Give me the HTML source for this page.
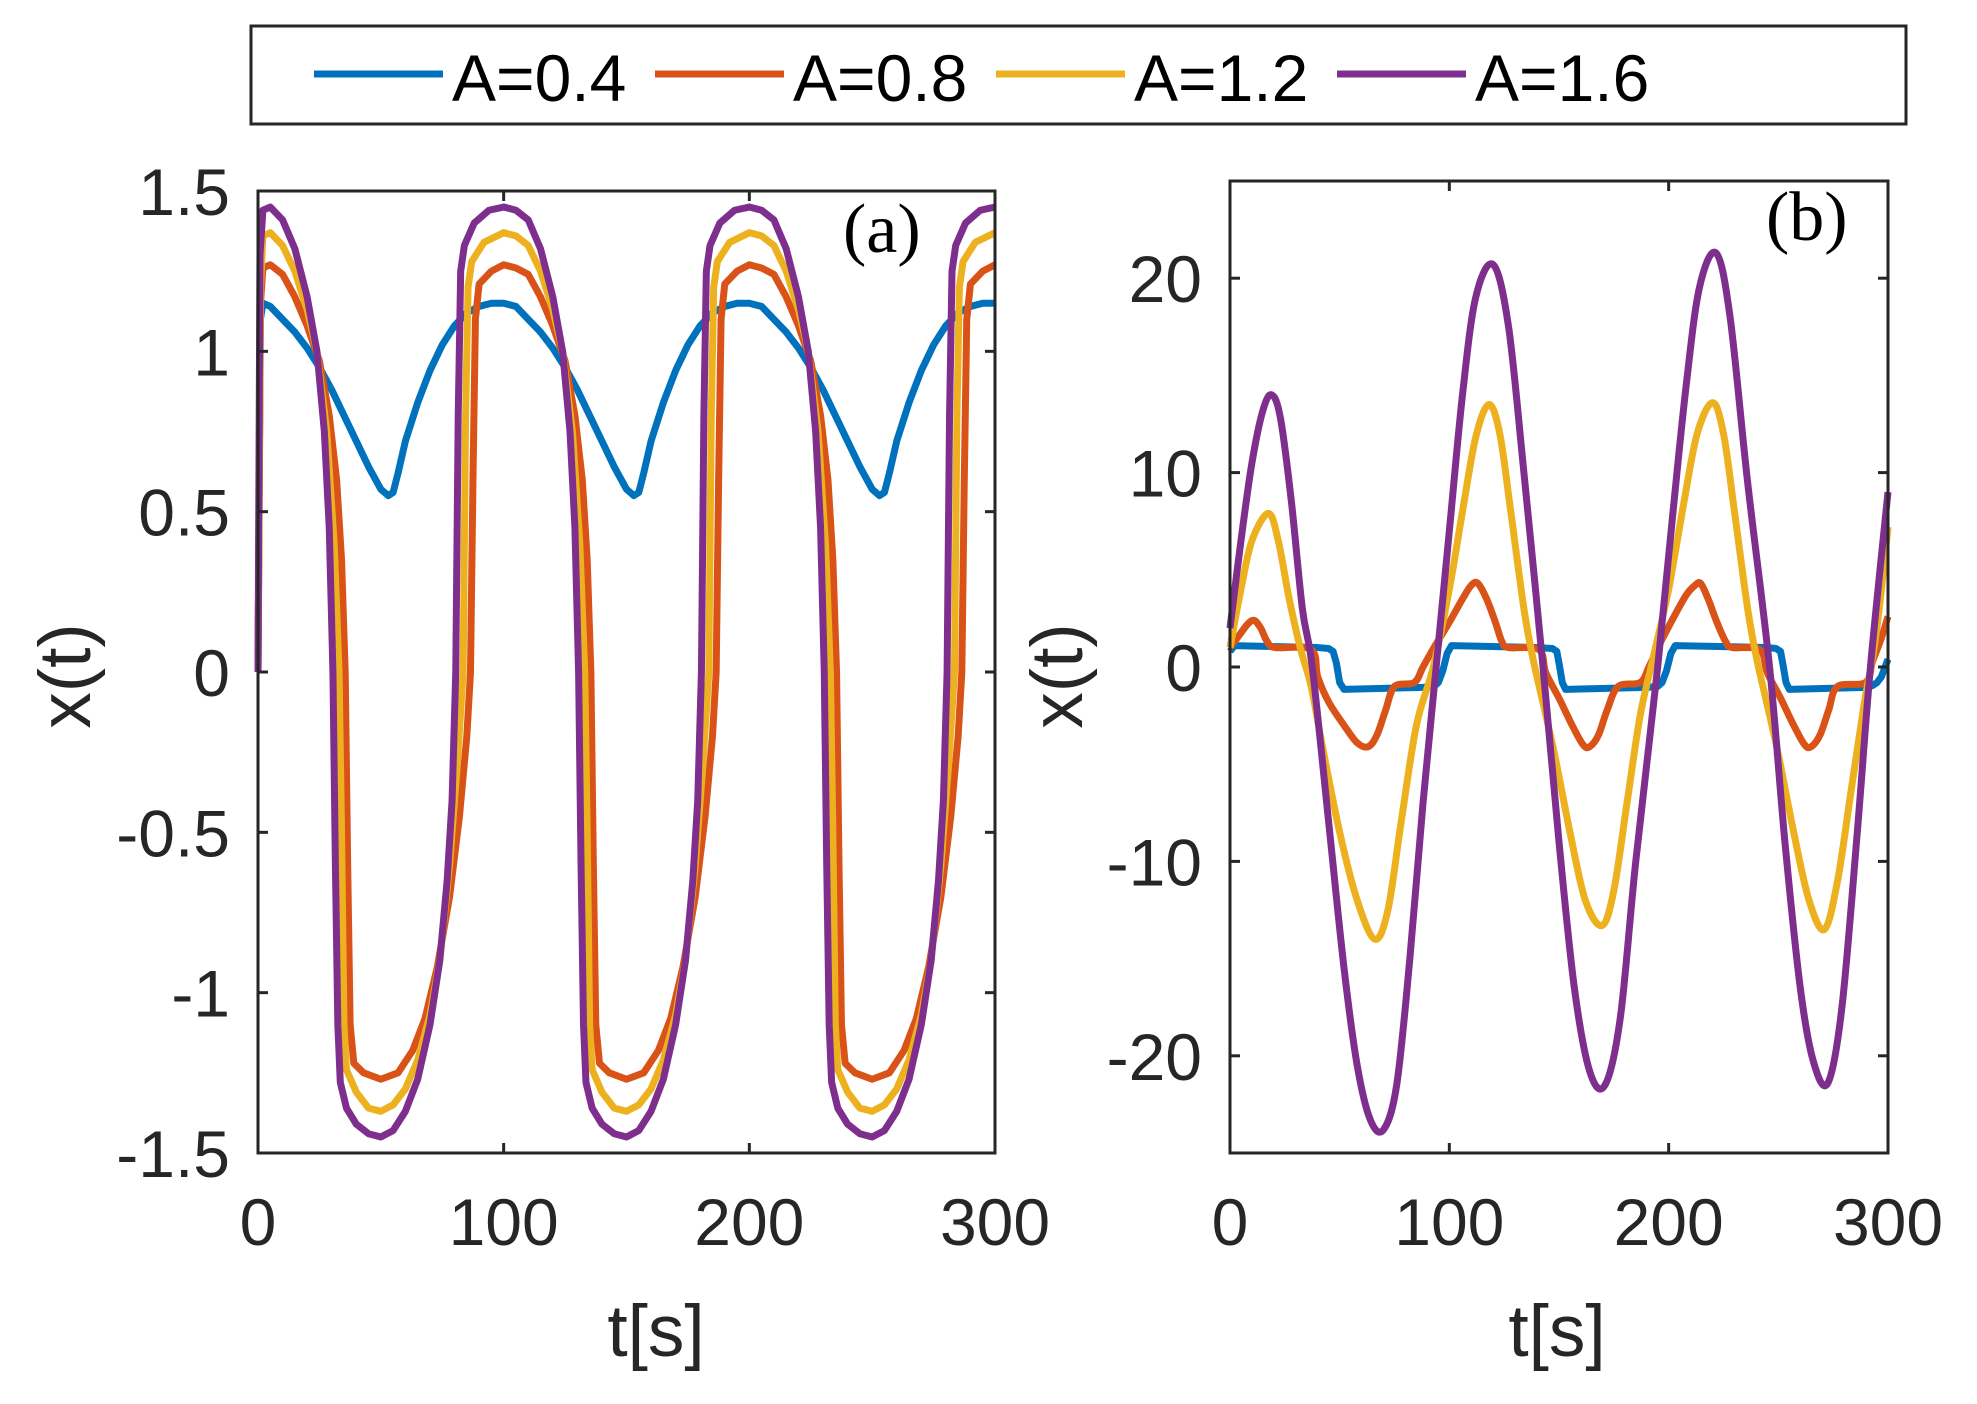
<!DOCTYPE html>
<html><head><meta charset="utf-8"><title>x(t) for different A</title>
<style>
html,body{margin:0;padding:0;background:#fff;}
svg{display:block;font-family:"Liberation Sans",Arial,sans-serif;}
.tick{font-size:66px;fill:#262626;}
.alab{font-size:73px;fill:#262626;}
.leg{font-size:66px;fill:#000;}
.pl{font-family:"Liberation Serif",serif;font-size:70px;fill:#000;}
</style></head>
<body>
<svg id="chart" width="1977" height="1404" viewBox="0 0 1977 1404">
  <g>
    <rect x="251" y="26" width="1655" height="98" fill="#fff" stroke="#262626" stroke-width="3"/>
    <g><line x1="314" y1="74" x2="443" y2="74" stroke="#0072BD" stroke-width="7"/><text class="leg" x="452" y="101">A=0.4</text></g>
    <g><line x1="655" y1="74" x2="784" y2="74" stroke="#D95319" stroke-width="7"/><text class="leg" x="793" y="101">A=0.8</text></g>
    <g><line x1="996" y1="74" x2="1125" y2="74" stroke="#EDB120" stroke-width="7"/><text class="leg" x="1134" y="101">A=1.2</text></g>
    <g><line x1="1337" y1="74" x2="1466" y2="74" stroke="#7E2F8E" stroke-width="7"/><text class="leg" x="1475" y="101">A=1.6</text></g>
  </g>
  <g id="panelA"></g>
  <g id="panelB"></g>
</svg>
<script>
// ---------- Panel (a) data ----------
const xTicksA = [0, 100, 200, 300];
const yTicksA = [-1.5, -1, -0.5, 0, 0.5, 1, 1.5];
const yTickLabelsA = ["-1.5", "-1", "-0.5", "0", "0.5", "1", "1.5"];
const tA_blue = [0,1,2,5,10,15,20,25,30,35,40,45,50,53,55,57,60,65,70,75,80,85,90,95,100,105,110,115,120,125,130,135,140,145,150,153,155,157,160,165,170,175,180,185,190,195,200,205,210,215,220,225,230,235,240,245,250,253,255,257,260,265,270,275,280,285,290,295,300];
const xA_blue = [0,1.1,1.15,1.14,1.1,1.06,1.01,0.95,0.88,0.8,0.72,0.64,0.57,0.55,0.56,0.62,0.72,0.84,0.94,1.02,1.08,1.12,1.14,1.15,1.15,1.14,1.1,1.06,1.01,0.95,0.88,0.8,0.72,0.64,0.57,0.55,0.56,0.62,0.72,0.84,0.94,1.02,1.08,1.12,1.14,1.15,1.15,1.14,1.1,1.06,1.01,0.95,0.88,0.8,0.72,0.64,0.57,0.55,0.56,0.62,0.72,0.84,0.94,1.02,1.08,1.12,1.14,1.15,1.15];
const tA_orange = [0,1,2,5,10,15,20,25,29,32,34,35.5,36.5,37.5,39,43,50,57,63,68,73,78,82,85,86.5,87.5,88.5,90,95,100,
  105,110,115,120,125,129,132,134,135.5,136.5,137.5,139,143,150,157,163,168,173,178,182,185,186.5,187.5,188.5,190,195,200,
  205,210,215,220,225,229,232,234,235.5,236.5,237.5,239,243,250,257,263,268,273,278,282,285,286.5,287.5,288.5,290,295,300];
const xA_orange = [0,1.15,1.26,1.27,1.24,1.17,1.08,0.97,0.8,0.6,0.35,0,-0.6,-1.1,-1.22,-1.25,-1.27,-1.25,-1.18,-1.08,-0.92,-0.7,-0.45,-0.2,0,0.6,1.1,1.21,1.25,1.27,
  1.26,1.24,1.17,1.08,0.97,0.8,0.6,0.35,0,-0.6,-1.1,-1.22,-1.25,-1.27,-1.25,-1.18,-1.08,-0.92,-0.7,-0.45,-0.2,0,0.6,1.1,1.21,1.25,1.27,
  1.26,1.24,1.17,1.08,0.97,0.8,0.6,0.35,0,-0.6,-1.1,-1.22,-1.25,-1.27,-1.25,-1.18,-1.08,-0.92,-0.7,-0.45,-0.2,0,0.6,1.1,1.21,1.25,1.27];
const tA_yellow = [0,1,2,5,10,15,20,24,28,31,33,34,35,36,40,45,50,55,60,65,70,74,78,81,83.5,84.5,85.5,87,92,100,105,110,115,120,124,128,131,133,134,135,136,140,145,150,155,160,165,170,174,178,181,183.5,184.5,185.5,187,192,200,205,210,215,220,224,228,231,233,234,235,236,240,245,250,255,260,265,270,274,278,281,283.5,284.5,285.5,287,292,300];
const xA_yellow = [0,1.2,1.36,1.37,1.33,1.25,1.13,1.0,0.75,0.4,0,-0.5,-1.1,-1.24,-1.31,-1.36,-1.37,-1.35,-1.3,-1.21,-1.07,-0.9,-0.6,-0.3,0,0.8,1.2,1.28,1.34,1.37,1.36,1.33,1.25,1.13,1.0,0.75,0.4,0,-0.5,-1.1,-1.24,-1.31,-1.36,-1.37,-1.35,-1.3,-1.21,-1.07,-0.9,-0.6,-0.3,0,0.8,1.2,1.28,1.34,1.37,1.36,1.33,1.25,1.13,1.0,0.75,0.4,0,-0.5,-1.1,-1.24,-1.31,-1.36,-1.37,-1.35,-1.3,-1.21,-1.07,-0.9,-0.6,-0.3,0,0.8,1.2,1.28,1.34,1.37];
const tA_purple = [0,0.8,2,5,10,15,20,24,27,29,30.5,31.5,32.5,33.5,36,40,45,50,55,60,65,70,74,77,79,80.5,81.5,82.5,84,88,94,100,105,110,115,120,124,127,129,130.5,131.5,132.5,133.5,136,140,145,150,155,160,165,170,174,177,179,180.5,181.5,182.5,184,188,194,200,205,210,215,220,224,227,229,230.5,231.5,232.5,233.5,236,240,245,250,255,260,265,270,274,277,279,280.5,281.5,282.5,284,288,294,300];
const xA_purple = [0,1.3,1.44,1.45,1.41,1.32,1.17,1.0,0.75,0.45,0,-0.6,-1.1,-1.28,-1.36,-1.41,-1.44,-1.45,-1.43,-1.37,-1.27,-1.1,-0.9,-0.65,-0.4,0,0.8,1.25,1.33,1.4,1.44,1.45,1.44,1.41,1.32,1.17,1.0,0.75,0.45,0,-0.6,-1.1,-1.28,-1.36,-1.41,-1.44,-1.45,-1.43,-1.37,-1.27,-1.1,-0.9,-0.65,-0.4,0,0.8,1.25,1.33,1.4,1.44,1.45,1.44,1.41,1.32,1.17,1.0,0.75,0.45,0,-0.6,-1.1,-1.28,-1.36,-1.41,-1.44,-1.45,-1.43,-1.37,-1.27,-1.1,-0.9,-0.65,-0.4,0,0.8,1.25,1.33,1.4,1.44,1.45];

// ---------- Panel (b) data ----------
const xTicksB = [0, 100, 200, 300];
const yTicksB = [-20, -10, 0, 10, 20];
const yTickLabelsB = ["-20", "-10", "0", "10", "20"];
const tB_blue = [0,2,40,45,47,48.5,50,52,88,93,95,97,99,101,140,147,149,150,151.5,153,190,195,197,199,201,203,245,249,251,252,253.5,255,290,293,295,297,300];
const xB_blue = [0.8,1.1,1.0,0.95,0.8,0.2,-0.8,-1.15,-1.05,-1.0,-0.8,-0.2,0.7,1.1,1.0,0.95,0.8,0.2,-0.8,-1.15,-1.05,-1.0,-0.8,-0.2,0.7,1.1,1.0,0.95,0.8,0.2,-0.8,-1.15,-1.05,-0.95,-0.8,-0.5,0.4];
const tB_orange = [0,4,8,11,14,17,20.6,37,40,45,52,58,63,67,71,75,84,88,93,100,106,110,113,117,121,124,127,140.8,144,150,156,161,164,168,172,177,187,191,196,202,208,212,214.6,218,222,226,229,241.5,245,251,257,262,265,269,273,277,289.7,293,297,300];
const xB_orange = [1,1.6,2.2,2.4,2,1.3,1.0,0.9,-0.5,-1.8,-3,-3.9,-4.1,-3.5,-2.2,-1.0,-0.8,0,1,2.3,3.5,4.2,4.3,3.5,2.3,1.3,1.0,0.9,-0.3,-1.6,-3,-4,-4.1,-3.5,-2.2,-1.0,-0.8,0,1.2,2.5,3.7,4.2,4.3,3.5,2.3,1.3,1.0,0.9,-0.3,-1.6,-3,-4,-4.1,-3.5,-2.2,-1.0,-0.8,0.3,1.5,2.6];
const tB_yellow = [0,5,10,17.5,22,27,32,37,42,50,58,66,72,78,85,92.7,100,106,112,118,123,128,134,138,142,148,155,162,169.6,175,181,187,193,200,207,213,220,225,230,236,240,244,250,257,264,271,277,283,289,293,296,300];
const xB_yellow = [1,4,6.5,7.9,6.5,3.5,1,-1,-4,-8.5,-12,-14,-12.5,-8,-3,0,4,8,11.8,13.5,12,8,3,0.5,-1.5,-4.5,-8.5,-12,-13.3,-11.5,-7,-2.5,0.5,4,8.5,12,13.6,12,8,3,0.5,-1.5,-4.5,-8.5,-12,-13.5,-11,-6.5,-2,0.5,3,7.2];
const tB_purple = [0,5,10,15,19,23,28,33,37.5,45,52,58,64,70,76,82,88,94,100,106,112,120,127,134,142.7,150,157,164,171,178,185,195,202,208,214,221.6,228,236,246,253,260,266,272.6,279,286,292,300];
const xB_purple = [2,6.5,10.5,13.2,14,12.8,8.5,3,0,-8,-15.5,-20.5,-23.3,-23.8,-21.5,-15,-7,0,7,14,19,20.7,17.5,10,0,-9,-16.5,-20.8,-21.5,-18,-10,0,8,14.5,19.5,21.3,18,9.5,0,-9,-16.5,-20.3,-21.4,-17.5,-8.5,0,9];

const COLORS = {blue:"#0072BD", orange:"#D95319", yellow:"#EDB120", purple:"#7E2F8E"};
const NS = "http://www.w3.org/2000/svg";

function el(tag, attrs, parent){
  const e = document.createElementNS(NS, tag);
  for (const k in attrs) e.setAttribute(k, attrs[k]);
  parent.appendChild(e);
  return e;
}

function linearPath(ts, xs, sx, sy){
  let d = "";
  const n = Math.min(ts.length, xs.length);
  for (let i=0;i<n;i++) d += (i?"L":"M") + sx(ts[i]).toFixed(2) + " " + sy(xs[i]).toFixed(2);
  return d;
}
function smoothPath(ts, xs, sx, sy){
  const n = Math.min(ts.length, xs.length);
  const P = [];
  for (let i=0;i<n;i++) P.push([sx(ts[i]), sy(xs[i])]);
  let d = "M"+P[0][0].toFixed(2)+" "+P[0][1].toFixed(2);
  for (let i=0;i<P.length-1;i++){
    const p0=P[Math.max(0,i-1)], p1=P[i], p2=P[i+1], p3=P[Math.min(P.length-1,i+2)];
    const c1=[p1[0]+(p2[0]-p0[0])/6, p1[1]+(p2[1]-p0[1])/6];
    const c2=[p2[0]-(p3[0]-p1[0])/6, p2[1]-(p3[1]-p1[1])/6];
    d += "C"+c1[0].toFixed(2)+" "+c1[1].toFixed(2)+" "+c2[0].toFixed(2)+" "+c2[1].toFixed(2)+" "+p2[0].toFixed(2)+" "+p2[1].toFixed(2);
  }
  return d;
}

function drawPanel(g, box, xDom, yDom, xTicks, yTicks, yLabels, series, yLabelX, tLabelX, panelLabel, plX, plY, prefix){
  const sx = v => box.l + (v - xDom[0])/(xDom[1]-xDom[0])*(box.r-box.l);
  const sy = v => box.b - (v - yDom[0])/(yDom[1]-yDom[0])*(box.b-box.t);
  const axes = el("rect",{x:box.l,y:box.t,width:box.r-box.l,height:box.b-box.t,fill:"#fff",stroke:"none"},g);
  
  
  const lines = el("g",{},g);
  
  
  for (const s of series){
    const d = s.smooth ? smoothPath(s.t, s.x, sx, sy) : linearPath(s.t, s.x, sx, sy);
    const p = el("path",{d:d,fill:"none",stroke:s.color,"stroke-width":7,"stroke-linejoin":"round"},lines);
    
    
  }
  const frame = el("rect",{x:box.l,y:box.t,width:box.r-box.l,height:box.b-box.t,fill:"none",stroke:"#262626","stroke-width":3},g);
  
  
  const xa = el("g",{},g);
  
  
  for (const v of xTicks){
    const x = sx(v);
    el("line",{x1:x,y1:box.b,x2:x,y2:box.b-10,stroke:"#262626","stroke-width":3},xa);
    el("line",{x1:x,y1:box.t,x2:x,y2:box.t+10,stroke:"#262626","stroke-width":3},xa);
    const t = el("text",{x:x,y:1245,"text-anchor":"middle",class:"tick"},xa);
    t.textContent = String(v);
    
    
  }
  const ya = el("g",{},g);
  
  
  yTicks.forEach((v,i)=>{
    const y = sy(v);
    el("line",{x1:box.l,y1:y,x2:box.l+10,y2:y,stroke:"#262626","stroke-width":3},ya);
    el("line",{x1:box.r,y1:y,x2:box.r-10,y2:y,stroke:"#262626","stroke-width":3},ya);
    const t = el("text",{x:box.l-28,y:y+24,"text-anchor":"end",class:"tick"},ya);
    t.textContent = yLabels[i];
    
    
  });
  const xl = el("text",{x:tLabelX,y:1356,"text-anchor":"middle",class:"alab"},g);
  xl.textContent = "t[s]";
  
  
  const yl = el("text",{x:0,y:0,"text-anchor":"middle",class:"alab",transform:"translate("+yLabelX+",676) rotate(-90)"},g);
  yl.textContent = "x(t)";
  
  
  const pl = el("text",{x:plX,y:plY,class:"pl"},g);
  pl.textContent = panelLabel;
  
  
}

drawPanel(document.getElementById("panelA"), {l:258,r:995,t:191,b:1153}, [0,300], [-1.5,1.5],
  xTicksA, yTicksA, yTickLabelsA,
  [{name:"a04",t:tA_blue,x:xA_blue,color:COLORS.blue},
   {name:"a08",t:tA_orange,x:xA_orange,color:COLORS.orange},
   {name:"a12",t:tA_yellow,x:xA_yellow,color:COLORS.yellow},
   {name:"a16",t:tA_purple,x:xA_purple,color:COLORS.purple}],
  90, 656, "(a)", 843, 252, "panel-a");

drawPanel(document.getElementById("panelB"), {l:1230,r:1888,t:181,b:1153}, [0,300], [-25,25],
  xTicksB, yTicksB, yTickLabelsB,
  [{name:"a04",t:tB_blue,x:xB_blue,color:COLORS.blue},
   {name:"a08",t:tB_orange,x:xB_orange,color:COLORS.orange,smooth:true},
   {name:"a12",t:tB_yellow,x:xB_yellow,color:COLORS.yellow,smooth:true},
   {name:"a16",t:tB_purple,x:xB_purple,color:COLORS.purple,smooth:true}],
  1082, 1557, "(b)", 1766, 240, "panel-b");
</script>
</body></html>
